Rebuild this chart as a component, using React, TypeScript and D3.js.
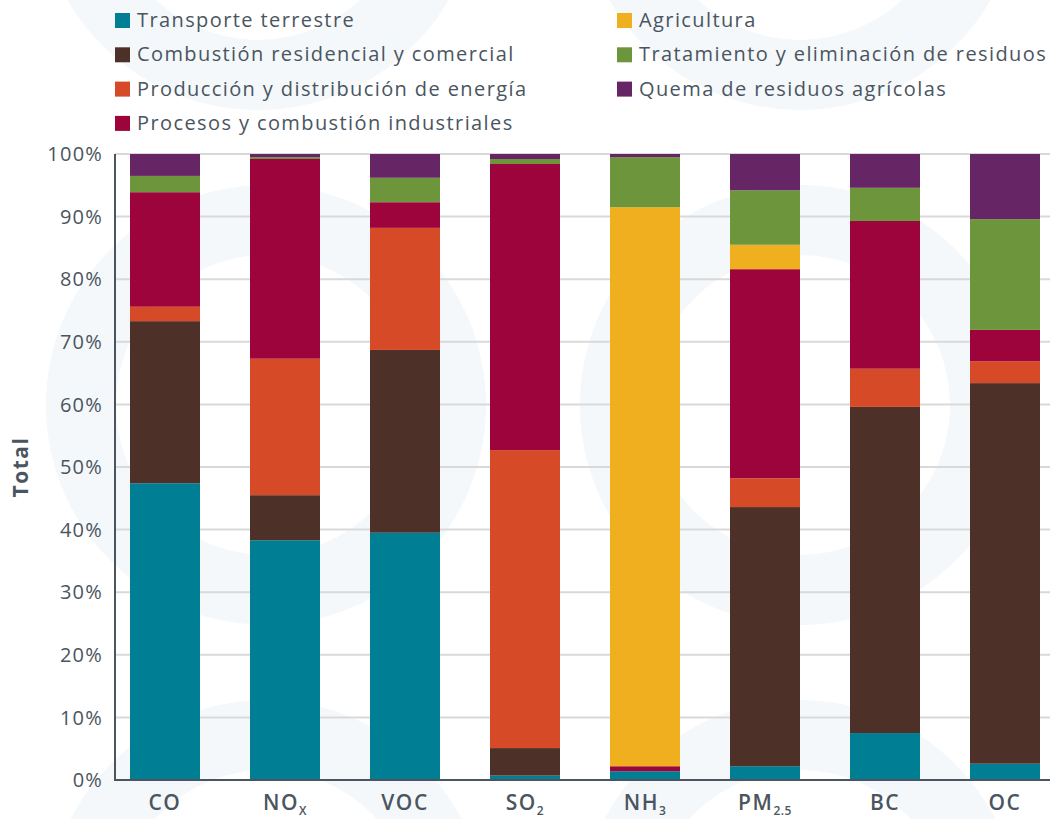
import React from "react";
import * as d3 from "d3";

const pollutants = ["CO", "NOx", "VOC", "SO2", "NH3", "PM2.5", "BC", "OC"];
const pollutantLabels = [
  { main: "CO", sub: "" },
  { main: "NO", sub: "X" },
  { main: "VOC", sub: "" },
  { main: "SO", sub: "2" },
  { main: "NH", sub: "3" },
  { main: "PM", sub: "2.5" },
  { main: "BC", sub: "" },
  { main: "OC", sub: "" },
];

const transporte = [47.4, 38.3, 39.5, 0.7, 1.4, 2.2, 7.5, 2.6];
const residencial = [25.9, 7.2, 29.2, 4.4, 0, 41.4, 52.1, 60.8];
const energia = [2.3, 21.8, 19.5, 47.6, 0, 4.6, 6.1, 3.5];
const industriales = [18.3, 31.9, 4.1, 45.7, 0.8, 33.4, 23.6, 5.0];
const agricultura = [0, 0, 0, 0, 89.3, 3.9, 0, 0];
const residuos = [2.6, 0.3, 3.9, 0.8, 8.0, 8.7, 5.3, 17.7];
const quema = [3.5, 0.5, 3.8, 0.8, 0.5, 5.8, 5.4, 10.4];

const seriesNames = [
  "Transporte terrestre",
  "Combustión residencial y comercial",
  "Producción y distribución de energía",
  "Procesos y combustión industriales",
  "Agricultura",
  "Tratamiento y eliminación de residuos",
  "Quema de residuos agrícolas",
];
const seriesValues = [transporte, residencial, energia, industriales, agricultura, residuos, quema];
const seriesColors = ["#007e93", "#4d3128", "#d64a27", "#9d043c", "#f0af1f", "#6d963c", "#662564"];

const yTicks = [0, 10, 20, 30, 40, 50, 60, 70, 80, 90, 100];

const W = 1050;
const H = 819;
const TEXT = "#4a5560";
const FONT = "'Open Sans', 'DejaVu Sans', sans-serif";

export default function App() {
  const x = d3
    .scaleBand<string>()
    .domain(pollutants)
    .range([115, 1055])
    .paddingInner(0.4167)
    .paddingOuter(0.125);
  const y = d3.scaleLinear().domain([0, 100]).range([780, 154]);

  const table = pollutants.map((p, i) => {
    const row: Record<string, any> = { key: p };
    seriesNames.forEach((s, j) => (row[s] = seriesValues[j][i]));
    return row;
  });
  const stacked = d3.stack<any>().keys(seriesNames)(table);

  const legendCols = [
    { x: 115, items: [0, 1, 2, 3] },
    { x: 617, items: [4, 5, 6] },
  ];
  const rowY = (r: number) => 20 + r * 34.3;

  const rings = [
    { cx: 258, cy: -110 },
    { cx: 800, cy: -110 },
    { cx: 266, cy: 405 },
    { cx: 800, cy: 405 },
    { cx: 266, cy: 920 },
    { cx: 800, cy: 920 },
  ];
  const arcGen = d3.arc();
  const ringPath = arcGen({ innerRadius: 150, outerRadius: 220, startAngle: 0, endAngle: 2 * Math.PI } as any) || "";

  return (
    <svg
      width={W}
      height={H}
      style={{ position: "absolute", left: 0, top: 0, background: "#ffffff" }}
      fontFamily={FONT}
    >
      <rect x={0} y={0} width={W} height={H} fill="#ffffff" />
      {rings.map((r, i) => (
        <path key={i} d={ringPath} transform={`translate(${r.cx},${r.cy})`} fill="#f4f8fb" />
      ))}

      {yTicks.map((t) => (
        <line key={t} x1={115} x2={W} y1={y(t)} y2={y(t)} stroke="#d9d9d9" strokeWidth={2} />
      ))}

      {stacked.map((s, j) =>
        s.map((d, i) =>
          d[1] - d[0] > 0 ? (
            <rect
              key={`${j}-${i}`}
              x={x(pollutants[i])}
              width={x.bandwidth()}
              y={y(d[1])}
              height={y(d[0]) - y(d[1])}
              fill={seriesColors[j]}
            />
          ) : null
        )
      )}

      <line x1={115} x2={115} y1={154} y2={781} stroke={TEXT} strokeWidth={2} />
      <line x1={114} x2={W} y1={780} y2={780} stroke={TEXT} strokeWidth={2} />

      {yTicks.map((t) => (
        <text key={t} x={103} y={y(t)} dy="0.36em" textAnchor="end" fontSize={20} letterSpacing={1.2} fill={TEXT}>
          {`${t}%`}
        </text>
      ))}

      <text
        transform={`translate(28,467) rotate(-90)`}
        textAnchor="middle"
        fontSize={21}
        fontWeight={700}
        letterSpacing={1.5}
        fill={TEXT}
      >
        Total
      </text>

      {pollutantLabels.map((l, i) => (
        <text
          key={i}
          x={(x(pollutants[i]) as number) + x.bandwidth() / 2}
          y={810}
          textAnchor="middle"
          fontSize={21}
          fontWeight={600}
          letterSpacing={1.5}
          fill={TEXT}
        >
          {l.main}
          {l.sub ? (
            <tspan fontSize={12} dy={5} letterSpacing={0.5}>
              {l.sub}
            </tspan>
          ) : null}
        </text>
      ))}

      {legendCols.map((c, ci) =>
        c.items.map((si, r) => (
          <g key={`${ci}-${r}`}>
            <rect x={c.x} y={rowY(r) - 7} width={15} height={15} fill={seriesColors[si]} />
            <text x={c.x + 22} y={rowY(r)} dy="0.35em" fontSize={20} letterSpacing={1.4} fill={TEXT}>
              {seriesNames[si]}
            </text>
          </g>
        ))
      )}
    </svg>
  );
}
